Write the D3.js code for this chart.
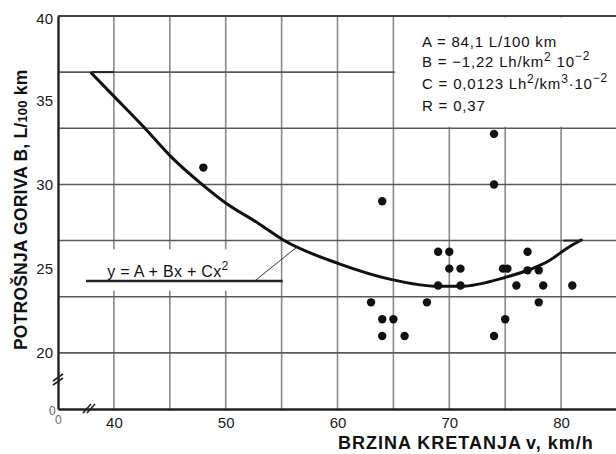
<!DOCTYPE html>
<html>
<head>
<meta charset="utf-8">
<script src="https://cdn.jsdelivr.net/npm/d3@7"></script>
<style>
  html, body { margin: 0; padding: 0; background: #fff; }
  svg { display: block; font-family: "Liberation Sans", Arial, sans-serif; }
</style>
</head>
<body>
<svg id="chart" width="616" height="454"></svg>
<script>
// ---- data ----
const pointsV = [48, 64, 74, 74, 69, 70, 77, 70, 71, 74.8, 75.2, 77, 78, 69, 71, 76, 78.4, 81, 63, 68, 78, 64, 65, 75, 64, 66, 74];
const pointsB = [31, 29, 33, 30, 26, 26, 26, 25, 25, 25, 25, 24.9, 24.9, 24, 24, 24, 24, 24, 23, 23, 23, 22, 22, 22, 21, 21, 21];

const curveV = [38.0, 39.9, 42.75, 45.1, 47.8, 50.0, 52.9, 55.15, 60.1, 64.85, 69.0, 71.0, 75.1, 77.2, 79.0, 80.5, 81.8];
const curveB = [36.6, 35.3, 33.35, 31.65, 30.05, 28.9, 27.7, 26.7, 25.3, 24.35, 23.95, 23.95, 24.5, 24.95, 25.5, 26.2, 26.7];

const xTickLabels = [40, 50, 60, 70, 80];
const yTickLabels = [20, 25, 30, 35, 40];
const xGridValues = [40, 45, 50, 55, 60, 65, 70, 75, 80, 85];
const yGridValues = [20, 23.333, 26.667, 30, 33.333, 36.667];

const curveEndTicks = [[38.0, 40.0, 36.667], [80.2, 81.8, 26.667]];

const xDomain = [35, 85];
const yDomain = [16.667, 40];

const svg = d3.select("#chart");
const x = d3.scaleLinear().domain(xDomain).range([58, 617]);
const y = d3.scaleLinear().domain(yDomain).range([409, 16]);

// ---- grid ----
const grid = svg.append("g");
grid.selectAll("line.v").data(xGridValues).join("line")
  .attr("x1", d => x(d)).attr("x2", d => x(d))
  .attr("y1", y(40)).attr("y2", y(yDomain[0]))
  .attr("stroke", "#8a8a8a").attr("stroke-width", 1.6);
grid.selectAll("line.h").data(yGridValues).join("line")
  .attr("x1", x(35)).attr("x2", 616)
  .attr("y1", d => y(d)).attr("y2", d => y(d))
  .attr("stroke", "#5a5a5a").attr("stroke-width", 1.6);

// white panels (parameter box and formula label)
svg.append("rect")
  .attr("x", x(65) + 1.5).attr("y", y(40) + 1.5)
  .attr("width", 616 - x(65)).attr("height", y(33.333) - y(40) - 3)
  .attr("fill", "#fff");
svg.append("rect")
  .attr("x", x(35) + 1.5).attr("y", y(26.15))
  .attr("width", x(54.75) - x(35)).attr("height", y(23.7) - y(26.15))
  .attr("fill", "#fff");

// top border
svg.append("line")
  .attr("x1", x(35)).attr("x2", 616).attr("y1", y(40)).attr("y2", y(40))
  .attr("stroke", "#444").attr("stroke-width", 2);

// ---- axes ----
const xAxis = d3.axisBottom(x).tickValues(xTickLabels).tickSize(0).tickPadding(8).tickFormat(d3.format("d"));
const gx = svg.append("g").attr("transform", `translate(0,${y(yDomain[0])})`).call(xAxis);
gx.select(".domain").attr("stroke", "#222").attr("stroke-width", 2.4);
gx.selectAll("text").attr("font-size", 15).attr("fill", "#1a1a1a").attr("font-family", "Liberation Sans, Arial, sans-serif");

const yAxis = d3.axisLeft(y).tickValues(yTickLabels).tickSize(0).tickPadding(5).tickFormat(d3.format("d"));
const gy = svg.append("g").attr("transform", `translate(${x(35)},0)`).call(yAxis);
gy.select(".domain").attr("stroke", "#222").attr("stroke-width", 2.4);
gy.selectAll("text").attr("font-size", 15).attr("fill", "#1a1a1a").attr("font-family", "Liberation Sans, Arial, sans-serif");
gy.selectAll(".tick").filter(d => d === 40).select("text").attr("dy", "0.5em");

// break marks
const brk = svg.append("g").attr("stroke", "#222").attr("stroke-width", 1.6);
[0, 4].forEach(o => {
  brk.append("line").attr("x1", x(35) - 5).attr("x2", x(35) + 5)
    .attr("y1", 385 - o).attr("y2", 378 - o);
  brk.append("line").attr("x1", 83 + o).attr("x2", 91 + o)
    .attr("y1", 413).attr("y2", 404);
});
svg.append("text").attr("x", 49).attr("y", 415).attr("font-size", 12).attr("fill", "#666").text("0");
svg.append("text").attr("x", 55).attr("y", 424).attr("font-size", 12).attr("fill", "#666").text("0");

// ---- fitted curve ----
const curveData = curveV.map((v, i) => [v, curveB[i]]);
svg.append("path")
  .datum(curveData)
  .attr("d", d3.line().x(d => x(d[0])).y(d => y(d[1])).curve(d3.curveMonotoneX))
  .attr("fill", "none").attr("stroke", "#111").attr("stroke-width", 3).attr("stroke-linecap", "round");
svg.selectAll("line.endtick").data(curveEndTicks).join("line")
  .attr("x1", d => x(d[0])).attr("x2", d => x(d[1]))
  .attr("y1", d => y(d[2])).attr("y2", d => y(d[2]))
  .attr("stroke", "#222").attr("stroke-width", 2);

// ---- points ----
svg.selectAll("circle.pt").data(pointsV.map((v, i) => [v, pointsB[i]])).join("circle")
  .attr("cx", d => x(d[0])).attr("cy", d => y(d[1])).attr("r", 4.2)
  .attr("fill", "#111");

// ---- formula label ----
svg.append("line")
  .attr("x1", x(37.5)).attr("x2", x(55.1)).attr("y1", y(24.27)).attr("y2", y(24.27))
  .attr("stroke", "#222").attr("stroke-width", 2.4);
svg.append("line")
  .attr("x1", x(52.6)).attr("x2", x(56.4)).attr("y1", y(24.27)).attr("y2", y(26.3))
  .attr("stroke", "#333").attr("stroke-width", 1);
const fl = svg.append("text").attr("x", x(39.4)).attr("y", y(24.52))
  .attr("font-size", 16).attr("letter-spacing", 0.3).attr("fill", "#111");
fl.append("tspan").text("y = A + Bx + Cx");
fl.append("tspan").attr("font-size", 12).attr("dy", -7).text("2");

// ---- parameter box ----
const bx = 422;
const ls = 0.8;
const t1 = svg.append("text").attr("x", bx).attr("y", 46.5).attr("font-size", 15).attr("letter-spacing", ls).attr("fill", "#111");
t1.text("A = 84,1 L/100 km");
const t2 = svg.append("text").attr("x", bx).attr("y", 67).attr("font-size", 15).attr("letter-spacing", ls).attr("fill", "#111");
t2.append("tspan").text("B = −1,22 Lh/km");
t2.append("tspan").attr("font-size", 12).attr("dy", -6).text("2");
t2.append("tspan").attr("dy", 6).text(" 10");
t2.append("tspan").attr("font-size", 12).attr("dy", -7).text("−2");
const t3 = svg.append("text").attr("x", bx).attr("y", 88.5).attr("font-size", 15).attr("letter-spacing", ls).attr("fill", "#111");
t3.append("tspan").text("C = 0,0123 Lh");
t3.append("tspan").attr("font-size", 12).attr("dy", -6).text("2");
t3.append("tspan").attr("dy", 6).text("/km");
t3.append("tspan").attr("font-size", 12).attr("dy", -6).text("3");
t3.append("tspan").attr("dy", 6).text("·10");
t3.append("tspan").attr("font-size", 12).attr("dy", -7).text("−2");
svg.append("text").attr("x", bx).attr("y", 111).attr("font-size", 15).attr("letter-spacing", ls).attr("fill", "#111").text("R = 0,37");

// ---- axis titles ----
svg.append("text").attr("x", 338).attr("y", 449)
  .attr("font-size", 18).attr("font-weight", "bold").attr("letter-spacing", 1.0).attr("fill", "#111")
  .text("BRZINA KRETANJA");
svg.append("text").attr("x", 526).attr("y", 449)
  .attr("font-size", 18).attr("font-weight", "bold").attr("letter-spacing", 1.0).attr("fill", "#111")
  .text("v, km/h");

const yt = svg.append("text")
  .attr("transform", "translate(27,350) rotate(-90)")
  .attr("font-size", 17.5).attr("font-weight", "bold").attr("letter-spacing", 0.2).attr("fill", "#111");
yt.append("tspan").text("POTROŠNJA GORIVA  B, L/");
yt.append("tspan").attr("font-size", 13).text("100");
yt.append("tspan").text(" km");
</script>
</body>
</html>
